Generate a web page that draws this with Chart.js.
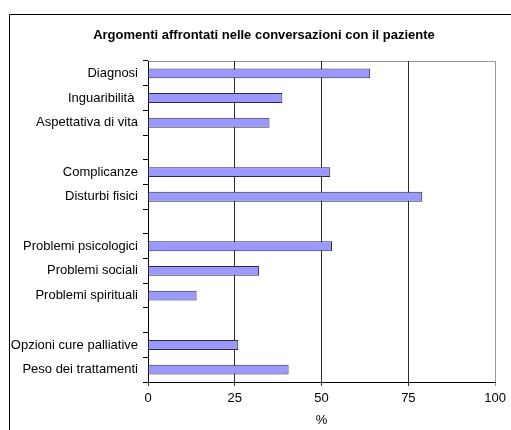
<!doctype html>
<html>
  <head>
    <meta charset="utf-8" />
    <title>Argomenti affrontati</title>
    <script src="https://cdn.jsdelivr.net/npm/chart.js"></script>
    <style>
      html, body { margin: 0; padding: 0; background: #fff; overflow: hidden; }
      #wrap { width: 511px; height: 430px; }
    </style>
  </head>
  <body>
    <div id="wrap"><canvas id="chart" width="511" height="430"></canvas></div>
    <script>
      const chartTitle = "Argomenti affrontati nelle conversazioni con il paziente";
      // blank entries leave the gaps between the topic groups
      const topics = [
        "Diagnosi", "Inguaribilità ", "Aspettativa di vita", "",
        "Complicanze", "Disturbi fisici", "",
        "Problemi psicologici", "Problemi sociali", "Problemi spirituali", "",
        "Opzioni cure palliative", "Peso dei trattamenti",
      ];
      const percent = [64, 38.7, 35, null, 52.5, 79, null, 53, 32, 14, null, 26, 40.5];
      const xTicks = [0, 25, 50, 75, 100];

      // outer frame, grey top edge of the plot and the title (centred on the frame)
      const frame = {
        id: "frame",
        beforeDraw(chart) {
          const ctx = chart.ctx;
          const a = chart.chartArea;
          ctx.save();
          ctx.fillStyle = "#fff";
          ctx.fillRect(0, 0, chart.width, chart.height);
          ctx.strokeStyle = "#000";
          ctx.lineWidth = 1;
          ctx.beginPath();
          ctx.moveTo(9.5, chart.height);
          ctx.lineTo(9.5, 14.5);
          ctx.lineTo(chart.width, 14.5);
          ctx.stroke();
          ctx.strokeStyle = "#999";
          ctx.beginPath();
          ctx.moveTo(a.left, Math.round(a.top) + 0.5);
          ctx.lineTo(a.right, Math.round(a.top) + 0.5);
          ctx.stroke();
          ctx.fillStyle = "#000";
          ctx.font = "bold 13px 'Liberation Sans', Arial, sans-serif";
          ctx.textAlign = "center";
          ctx.textBaseline = "middle";
          ctx.fillText(chartTitle, 264, 35);
          ctx.restore();
        },
      };

      Chart.defaults.font.family = "'Liberation Sans', Arial, sans-serif";
      Chart.defaults.font.size = 13;
      Chart.defaults.color = "#000";

      new Chart(document.getElementById("chart"), {
        type: "bar",
        data: {
          labels: topics,
          datasets: [
            {
              data: percent,
              backgroundColor: "#9999FF",
              borderColor: "#2a2a3a",
              borderWidth: 1,
              categoryPercentage: 1,
              barPercentage: 0.4,
            },
          ],
        },
        options: {
          indexAxis: "y",
          responsive: false,
          animation: false,
          layout: { padding: { top: 61, right: 15, bottom: 0, left: 0 } },
          plugins: {
            legend: { display: false },
            tooltip: { enabled: false },
            title: { display: false },
          },
          scales: {
            x: {
              min: 0,
              max: 100,
              afterBuildTicks(scale) {
                scale.ticks = xTicks.map((v) => ({ value: v }));
              },
              afterFit(scale) {
                scale.height = 48;
              },
              border: { display: true, color: "#000", width: 1 },
              grid: {
                color: (c) => (c.tick && c.tick.value === 100 ? "#999" : "#2b2b2b"),
                lineWidth: 1,
                tickLength: 4,
              },
              ticks: { padding: 5, color: "#000", maxRotation: 0 },
              title: { display: true, text: "%", color: "#000", padding: { top: 1, bottom: 2 } },
            },
            y: {
              afterFit(scale) {
                scale.width = 148;
              },
              border: { display: true, color: "#000", width: 1 },
              grid: { drawOnChartArea: false, drawTicks: true, tickLength: 5, color: "#000" },
              ticks: { padding: 5, color: "#000", autoSkip: false },
            },
          },
        },
        plugins: [frame],
      });
    </script>
  </body>
</html>
